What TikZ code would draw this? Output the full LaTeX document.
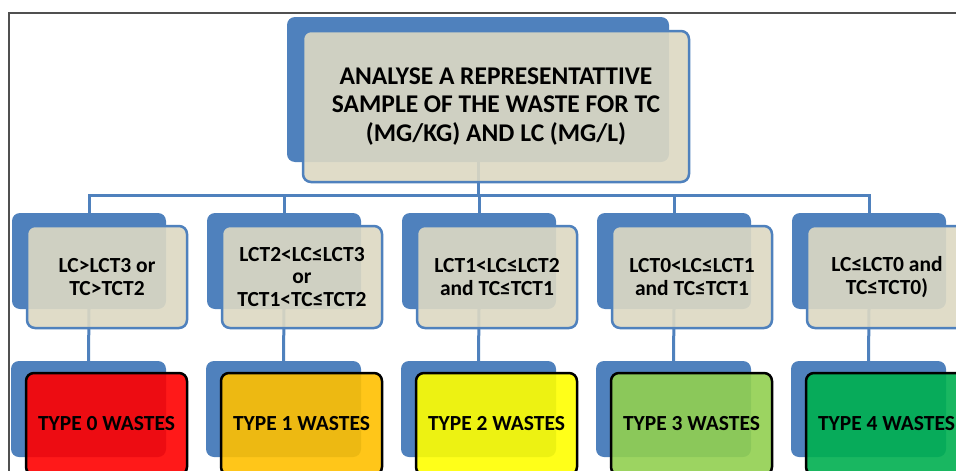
\documentclass[tikz,border=0pt]{standalone}
\usepackage{fontspec}
\setmainfont{Carlito}
\definecolor{sablue}{HTML}{4F81BD}
\definecolor{tan}{HTML}{DDD9C3}
\definecolor{frameg}{HTML}{505050}
\definecolor{tyzero}{HTML}{FF0000}
\definecolor{tyone}{HTML}{FFC000}
\definecolor{tytwo}{HTML}{FFFF00}
\definecolor{tythree}{HTML}{92D050}
\definecolor{tyfour}{HTML}{00B050}
\tikzset{
  backbox/.style={rectangle, rounded corners=8pt, fill=sablue, draw=none, inner sep=0pt},
  frontbox/.style={rectangle, rounded corners=8pt, fill=tan, fill opacity=0.9, text opacity=1,
     draw=sablue, line width=2.5pt, draw opacity=1, inner sep=0pt, align=center, font=\bfseries},
  typebox/.style={rectangle, rounded corners=8pt, fill opacity=0.9, text opacity=1,
     draw=black, line width=2.5pt, draw opacity=1, inner sep=0pt, align=center, font=\bfseries\fontsize{21.5}{24}\selectfont},
  conn/.style={draw=sablue, line width=3pt},
  framel/.style={draw=frameg, line width=1.6pt}
}
\begin{document}
\begin{tikzpicture}[x=1pt,y=-1pt]
\useasboundingbox (0,0) rectangle (956,471);
\fill[white] (0,0) rectangle (956,471);
\draw[framel] (8,13) -- (956,13);
\draw[framel] (9,13) -- (9,471);
% back boxes
\node[backbox, minimum width=382pt, minimum height=145pt] (topb) at (478,89.5) {};
\foreach \i in {1,...,5}{
  \node[backbox, minimum width=154pt, minimum height=96pt] (c\i b) at ({89+195*(\i-1)},261) {};
  \node[backbox, minimum width=155pt, minimum height=96pt] (t\i b) at ({88.5+195*(\i-1)},409) {};
}
\coordinate (bus) at (478,195);
% connectors
\foreach \i in {1,...,5}{
  \draw[conn] (topb.south) |- (c\i b.north |- bus) -- (c\i b.north);
  \draw[conn] (c\i b.south) -- (t\i b.north);
}
% front boxes
\node[frontbox, minimum width=386pt, minimum height=151pt, font=\bfseries\fontsize{25.5}{28.5}\selectfont] (topf) at (496,106.5)
  {ANALYSE A REPRESENTATTIVE\\SAMPLE OF THE WASTE FOR TC\\(MG/KG) AND LC (MG/L)};
\tikzset{lvtwo/.style={frontbox, minimum width=160pt, minimum height=102pt, font=\bfseries\fontsize{21.5}{22.5}\selectfont}}
\node[lvtwo] (c1f) at (107,277) {LC>LCT3 or\\TC>TCT2};
\node[lvtwo] (c2f) at (302,277) {LCT2<LC≤LCT3\\or\\TCT1<TC≤TCT2};
\node[lvtwo] (c3f) at (497,277) {LCT1<LC≤LCT2\\and TC≤TCT1};
\node[lvtwo] (c4f) at (692,277) {LCT0<LC≤LCT1\\and TC≤TCT1};
\node[lvtwo] (c5f) at (887,277) {LC≤LCT0 and\\TC≤TCT0)};
\tikzset{lvthree/.style={typebox, minimum width=161pt, minimum height=102pt}}
\node[lvthree, fill=tyzero] (t1f) at (106.5,424) {TYPE 0 WASTES};
\node[lvthree, fill=tyone] (t2f) at (301.5,424) {TYPE 1 WASTES};
\node[lvthree, fill=tytwo] (t3f) at (496.5,424) {TYPE 2 WASTES};
\node[lvthree, fill=tythree] (t4f) at (691.5,424) {TYPE 3 WASTES};
\node[lvthree, fill=tyfour] (t5f) at (886.5,424) {TYPE 4 WASTES};
\end{tikzpicture}
\end{document}
